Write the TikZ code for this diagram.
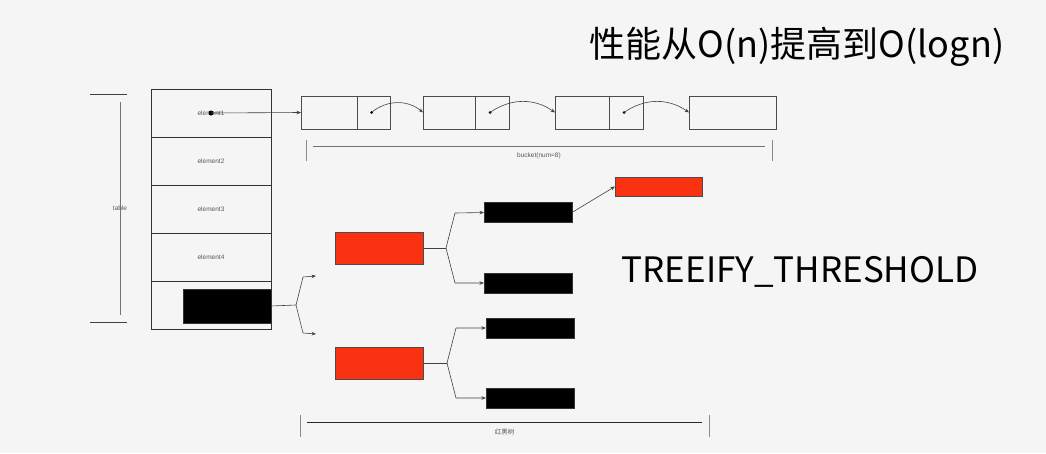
\documentclass[tikz,border=0pt]{standalone}
\usepackage{fontspec}
\setmainfont{Liberation Sans}
\newfontfamily\cjk{Noto Sans CJK SC}
\usetikzlibrary{arrows.meta,positioning}
\definecolor{treered}{RGB}{250,50,18}
\definecolor{paper}{RGB}{245,245,245}

\begin{document}
\begin{tikzpicture}[x=1pt,y=-1pt,
  font=\fontsize{6.5}{7}\selectfont,
  cell/.style={draw=black!80,line width=0.7pt,minimum width=120pt,minimum height=48pt,
               inner sep=0pt,outer sep=0pt,text=black!65},
  slot/.style={draw=black!70,line width=0.6pt,minimum height=33pt,inner sep=0pt,outer sep=0pt},
  blk/.style={draw=black!80,fill=black,minimum width=88pt,minimum height=20pt,inner sep=0pt,outer sep=0pt},
  rd/.style={draw=black!70,fill=treered,minimum width=88pt,minimum height=32pt,inner sep=0pt,outer sep=0pt},
  dot/.style={circle,fill=black,inner sep=0pt,minimum size=3pt},
  link/.style={draw=black!75,line width=0.6pt,-{Stealth[length=4.5pt,width=3.5pt]}},
  fork/.style={draw=black!75,line width=0.6pt},
  dimtick/.style={draw=black!45,line width=0.8pt},
  dimline/.style={draw=black!55,line width=0.8pt},
  note/.style={text=black!65,font=\fontsize{6.5}{7}\selectfont},
  title/.style={font=\cjk\fontsize{36}{40}\selectfont},
  big/.style={font=\cjk\fontsize{35}{40}\selectfont}
]
  \fill[paper] (0,0) rectangle (1046,453);
  \useasboundingbox (0,0) rectangle (1046,453);

  \node[title] (ttl) at (797,47) {性能从O(n)提高到O(logn)};

  \draw[dimtick,black!75] (90,94) -- (127,94);
  \draw[dimtick,black!75] (90,322) -- (127,322);
  \draw[dimline] (120,102) -- (120,315);
  \node[note] (tlab) at (120,208) {table};

  \foreach \i in {1,...,4}
    \node[cell] (e\i) at (211,65+48*\i) {element\i};
  \node[cell] (e5) at (211,305) {};
  \node[blk,minimum height=34pt] (t5) at (227,306) {};

  \node[slot,minimum width=56pt] (k1) at (329,112.5) {};
  \node[slot,minimum width=33pt,right=0pt of k1] (n1) {};
  \node[slot,minimum width=52pt] (k2) at (449,112.5) {};
  \node[slot,minimum width=34pt,right=0pt of k2] (n2) {};
  \node[slot,minimum width=54pt] (k3) at (582,112.5) {};
  \node[slot,minimum width=34pt,right=0pt of k3] (n3) {};
  \node[slot,minimum width=87pt] (k4) at (732.5,112.5) {};

  \node[dot,minimum size=5pt] (d0) at (e1.center) {};
  \node[dot] (p1) at ([xshift=-2pt]n1.center) {};
  \node[dot] (p2) at ([xshift=-2pt]n2.center) {};
  \node[dot] (p3) at ([xshift=-2pt]n3.center) {};
  \draw[link] (d0.center) -- (k1.west);
  \draw[link] (p1.center) to[bend left=40] (k2.west);
  \draw[link] (p2.center) to[bend left=35] (k3.west);
  \draw[link] (p3.center) to[bend left=35] (k4.west);

  \draw[dimtick] (306,140) -- (306,161);
  \draw[dimtick] (772,140) -- (772,161);
  \draw[dimline] (313,146) -- node[note,below=3pt] {bucket(num=8)} (765,146);

  \coordinate (f0) at (296,305);
  \coordinate (u0) at (316,276);
  \coordinate (l0) at (316,334);
  \draw[fork] (t5.east) -- (f0);
  \draw[link] (f0) -- (303,277) -- (u0);
  \draw[link] (f0) -- (303,333) -- (l0);

  \node[rd] (r1) at (379,248) {};
  \node[rd] (r2) at (379,363) {};
  \node[blk] (b1) at (528,212.5) {};
  \node[blk] (b2) at (528,283) {};
  \node[blk] (b3) at (530,328) {};
  \node[blk] (b4) at (530,398) {};
  \node[rd,minimum width=87pt,minimum height=19pt] (rt) at (658.5,186.5) {};

  \coordinate (f1) at (446,248);
  \coordinate (f2) at (447,363);
  \draw[fork] (r1.east) -- (f1);
  \draw[link] (f1) -- ++(9,-35) -- (b1.west);
  \draw[link] (f1) -- ++(9,35) -- (b2.west);
  \draw[fork] (r2.east) -- (f2);
  \draw[link] (f2) -- ++(9,-35) -- (b3.west);
  \draw[link] (f2) -- ++(9,35) -- (b4.west);
  \draw[link] (b1.east) -- (rt.west);

  \node[big] (thr) at (800,272) {TREEIFY\_THRESHOLD};

  \draw[dimtick] (300,415) -- (300,437);
  \draw[dimtick] (709,415) -- (709,437);
  \draw[dimline,black!85,line width=1pt] (307,422) -- node[note,below=3pt,font=\cjk\fontsize{6.5}{7}\selectfont] {红黑树} (702,422);
\end{tikzpicture}
\end{document}
